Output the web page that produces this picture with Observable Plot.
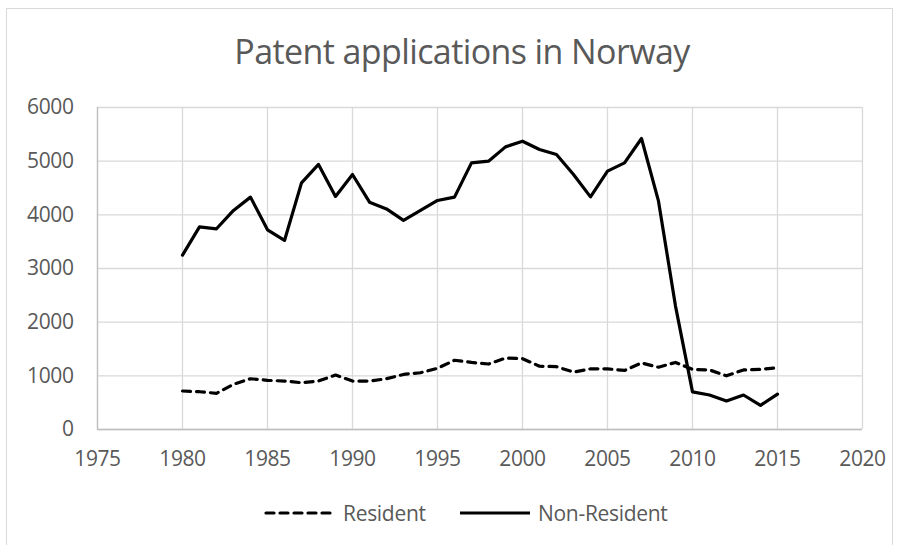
<!DOCTYPE html>
<html>
<head>
<meta charset="utf-8">
<script src="https://cdn.jsdelivr.net/npm/d3@7"></script>
<script src="https://cdn.jsdelivr.net/npm/@observablehq/plot@0.6"></script>
<style>
  body { margin: 0; background: #fff; }
  #wrap { position: relative; width: 903px; height: 545px; overflow: hidden; font-family: "Open Sans", sans-serif; }
  #frame { position: absolute; left: 6px; top: 8px; width: 887px; height: 560px; border: 1px solid #d9d9d9; box-sizing: border-box; }
  #title { position: absolute; left: 0; width: 924px; top: 28px; text-align: center; font-size: 34px; letter-spacing: -0.6px; color: #595959; }
  #chart { position: absolute; left: 0; top: 90px; }
  #legend { position: absolute; top: 498px; left: 0; width: 903px; height: 30px; font-size: 21px; letter-spacing: -0.3px; color: #595959; }
  .item { position: absolute; top: 0; display: flex; align-items: center; height: 30px; }
  .item svg { margin-right: 7px; }
  #chart text { letter-spacing: -0.4px; }
</style>
</head>
<body>
<div id="wrap">
  <div id="frame"></div>
  <div id="title">Patent applications in Norway</div>
  <div id="chart"></div>
  <div id="legend">
    <div class="item" style="left:264px"><svg width="72" height="10"><line x1="2" y1="5" x2="70" y2="5" stroke="#000" stroke-width="3.2" stroke-dasharray="8,6" stroke-linecap="round"/></svg><span>Resident</span></div>
    <div class="item" style="left:459px"><svg width="72" height="10"><line x1="1" y1="5" x2="71" y2="5" stroke="#000" stroke-width="3.2"/></svg><span>Non-Resident</span></div>
  </div>
</div>
<script>
const years = [1980,1981,1982,1983,1984,1985,1986,1987,1988,1989,1990,1991,1992,1993,1994,1995,1996,1997,1998,1999,2000,2001,2002,2003,2004,2005,2006,2007,2008,2009,2010,2011,2012,2013,2014,2015];
const resident = [717,704,674,842,946,916,903,872,903,1015,903,903,946,1026,1058,1140,1290,1250,1220,1330,1320,1180,1170,1070,1130,1130,1100,1240,1160,1250,1120,1110,1000,1110,1120,1150];
const nonResident = [3250,3777,3740,4082,4330,3721,3523,4596,4939,4343,4752,4236,4110,3896,4082,4268,4330,4968,5000,5266,5372,5218,5124,4752,4335,4814,4968,5423,4255,2300,700,643,531,643,450,660];
const xTicks = [1975,1980,1985,1990,1995,2000,2005,2010,2015,2020];
const yTicks = [0,1000,2000,3000,4000,5000,6000];

const resData = years.map((y, i) => ({year: y, value: resident[i]}));
const nonData = years.map((y, i) => ({year: y, value: nonResident[i]}));

const chart = Plot.plot({
  width: 903,
  height: 400,
  marginLeft: 97,
  marginRight: 41,
  marginTop: 17,
  marginBottom: 61,
  style: { fontFamily: "Open Sans, sans-serif", fontSize: "21px", color: "#595959", background: "transparent" },
  x: { domain: [1975, 2020], label: null },
  y: { domain: [0, 6000], label: null },
  marks: [
    Plot.gridX(xTicks, { stroke: "#d9d9d9", strokeOpacity: 1, strokeWidth: 1.3 }),
    Plot.gridY(yTicks, { stroke: "#d9d9d9", strokeOpacity: 1, strokeWidth: 1.3 }),
    Plot.ruleX([1975], { stroke: "#bfbfbf", strokeWidth: 1.3 }),
    Plot.ruleY([0], { stroke: "#bfbfbf", strokeWidth: 1.3 }),
    Plot.axisX({ ticks: xTicks, tickFormat: d => String(d), tickSize: 0, tickPadding: 22, fill: "#595959", label: null }),
    Plot.axisY({ ticks: yTicks, tickFormat: d => String(d), tickSize: 0, tickPadding: 24, fill: "#595959", label: null }),
    Plot.line(resData, { x: "year", y: "value", stroke: "#000", strokeWidth: 3.2, strokeDasharray: "8,6", strokeLinecap: "round", strokeLinejoin: "round" }),
    Plot.line(nonData, { x: "year", y: "value", stroke: "#000", strokeWidth: 3.2, strokeLinejoin: "round" })
  ]
});
document.getElementById("chart").appendChild(chart);
</script>
</body>
</html>
